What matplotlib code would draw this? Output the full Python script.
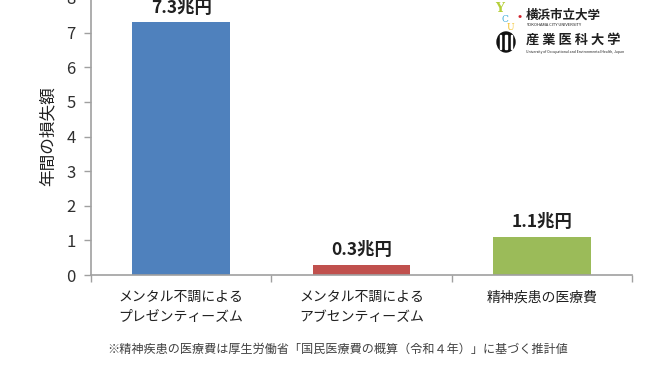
import matplotlib
matplotlib.use("Agg")
import matplotlib.pyplot as plt
from matplotlib.patches import Ellipse, Rectangle
import numpy as np

plt.rcParams['font.family'] = ['Noto Sans CJK JP', 'DejaVu Sans']

categories = ["メンタル不調による\nプレゼンティーズム", "メンタル不調による\nアブセンティーズム", "精神疾患の医療費"]
values = [7.3, 0.3, 1.1]
value_labels = ["7.3兆円", "0.3兆円", "1.1兆円"]
colors = ["#4F81BD", "#C0504D", "#9BBB59"]
yticks = [0, 1, 2, 3, 4, 5, 6, 7, 8]

W, H = 672, 372
fig = plt.figure(figsize=(6.72, 3.72), dpi=100)
ax = fig.add_axes([91/W, (H-275)/H, (632-91)/W, 277/H])

x = np.arange(len(categories))
ax.bar(x, values, width=0.54, color=colors, zorder=2)
ax.set_xlim(-0.5, 2.5)
ax.set_ylim(0, 8)
ax.set_yticks(yticks)
ax.tick_params(axis='y', labelsize=12, colors='#A0A0A0', labelcolor='#303030', length=5, width=1, direction='out', pad=6)
ax.set_xticks(x)
ax.set_xticklabels(categories, fontsize=10, color='#202020', linespacing=1.5)
ax.tick_params(axis='x', length=0, pad=11)
ax.set_xticks([-0.5, 0.5, 1.5, 2.5], minor=True)
ax.tick_params(axis='x', which='minor', length=5, colors='#A0A0A0', width=1)
for s in ['top', 'right']:
    ax.spines[s].set_visible(False)
for s in ['left', 'bottom']:
    ax.spines[s].set_color('#A0A0A0')
    ax.spines[s].set_linewidth(1.2)

for xi, v, lab in zip(x, values, value_labels):
    ax.annotate(lab, (xi, v), xytext=(0, 4), textcoords='offset points',
                ha='center', va='bottom', fontsize=12.5, fontweight='bold', color='#202020')

ax.set_ylabel("年間の損失額", fontsize=12, color='#202020', labelpad=7)

fig.text(338/W, 1 - 349/H, "※精神疾患の医療費は厚生労働省「国民医療費の概算（令和４年）」に基づく推計値",
         ha='center', va='center', fontsize=8.7, color='#404040')

# logos
fig.text(495/W, 1 - 9/H, "Y", fontsize=9, color='#B5CF3A', ha='left', va='center', fontweight='bold', family=['DejaVu Serif'])
fig.text(501/W, 1 - 19/H, "C", fontsize=6.5, color='#3BA9D9', ha='left', va='center', family=['DejaVu Serif'])
fig.text(507/W, 1 - 27/H, "U", fontsize=6.5, color='#F2C230', ha='left', va='center', family=['DejaVu Serif'])
fig.text(517/W, 1 - 16/H, "•", fontsize=9, color='#D0202A', ha='left', va='center')
fig.text(526/W, 1 - 15/H, "横浜市立大学", fontsize=9, color='#202020', ha='left', va='center', fontweight='bold')
fig.text(526/W, 1 - 25/H, "YOKOHAMA CITY UNIVERSITY", fontsize=3, color='#202020', ha='left', va='center')
# emblem drawn as shapes
fig.patches.append(Ellipse((506/W, 1 - 42/H), 18/W, 20/H, transform=fig.transFigure, color='#101010', figure=fig))
for xx in (500.5, 506, 511.5):
    fig.patches.append(Rectangle(((xx - 0.8)/W, 1 - 49/H), 1.6/W, 14/H, transform=fig.transFigure, color='white', figure=fig))
fig.text(526/W, 1 - 40/H, "産 業 医 科 大 学", fontsize=9.5, color='#202020', ha='left', va='center', fontweight='bold')
fig.text(526/W, 1 - 52/H, "University of Occupational and Environmental Health, Japan", fontsize=2.5, color='#202020', ha='left', va='center')

fig.savefig("out.png", dpi=100)
